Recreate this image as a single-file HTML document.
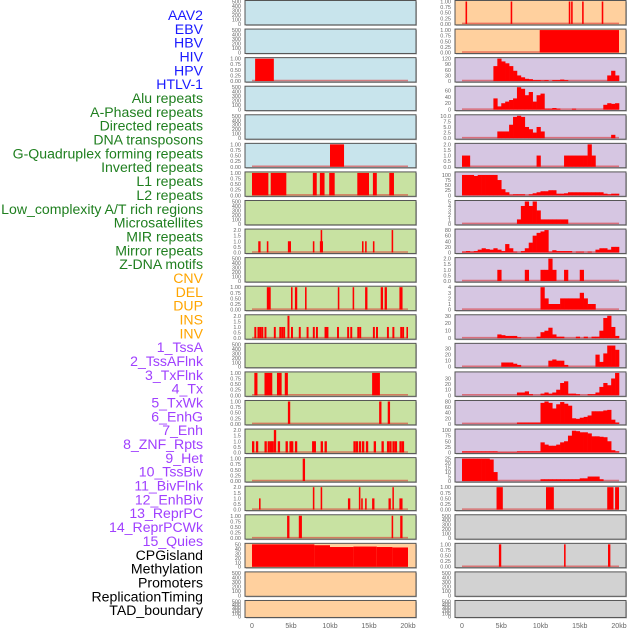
<!DOCTYPE html>
<html><head><meta charset="utf-8"><style>
html,body{margin:0;padding:0;background:#fff;}
svg{display:block;font-family:"Liberation Sans",sans-serif;}
</style></head><body>
<svg id="chart" width="630" height="630" viewBox="0 0 630 630" xmlns="http://www.w3.org/2000/svg"></svg>
<script>
const labels = ["AAV2","EBV","HBV","HIV","HPV","HTLV-1","Alu repeats","A-Phased repeats","Directed repeats","DNA transposons","G-Quadruplex forming repeats","Inverted repeats","L1 repeats","L2 repeats","Low_complexity A/T rich regions","Microsatellites","MIR repeats","Mirror repeats","Z-DNA motifs","CNV","DEL","DUP","INS","INV","1_TssA","2_TssAFlnk","3_TxFlnk","4_Tx","5_TxWk","6_EnhG","7_Enh","8_ZNF_Rpts","9_Het","10_TssBiv","11_BivFlnk","12_EnhBiv","13_ReprPC","14_ReprPCWk","15_Quies","CPGisland","Methylation","Promoters","ReplicationTiming","TAD_boundary"];
const labelColors = ["#1a1aff","#1a1aff","#1a1aff","#1a1aff","#1a1aff","#1a1aff","#1f7f1f","#1f7f1f","#1f7f1f","#1f7f1f","#1f7f1f","#1f7f1f","#1f7f1f","#1f7f1f","#1f7f1f","#1f7f1f","#1f7f1f","#1f7f1f","#1f7f1f","#ffa500","#ffa500","#ffa500","#ffa500","#ffa500","#a040ff","#a040ff","#a040ff","#a040ff","#a040ff","#a040ff","#a040ff","#a040ff","#a040ff","#a040ff","#a040ff","#a040ff","#a040ff","#a040ff","#a040ff","#000","#000","#000","#000","#000"];
const xTicks = [0,5,10,15,20];
const xTickLabels = ["0","5kb","10kb","15kb","20kb"];
const L2 = [[0.4,2.8,1]];
const L5 = [[10,11.8,1]];
const L6 = [[0,2.1,1],[2.4,4.4,1],[7.8,8.3,1],[8.7,9.3,1],[9.9,10.6,1],[13.5,15,1],[15.5,16,1],[17.6,18.2,1]];
const L8 = [[0.8,1.1,1],[1.9,2.1,1],[4.6,5,1],[7.8,8,1],[8.7,9.1,1],[8.8,9,2],[14.1,14.3,1],[14.5,14.7,1],[15.5,15.7,1],[17.9,18.1,2]];
const L10 = [[1.9,2.4,1],[5,5.2,1],[5.5,5.8,1],[6.8,7,1],[11,11.2,1],[12.9,13.1,1],[14.5,14.8,1],[16.5,16.8,1],[17,17.3,1],[18.9,19.3,1]];
const L11 = [[0.3,0.55,1],[0.7,0.95,1],[0.95,1.2,1],[1.2,1.45,1],[1.6,1.85,1],[2.8,3.05,1],[3.5,3.75,1],[3.75,4,1],[4,4.25,1],[4.55,4.8,2],[5,5.25,1],[6,6.25,1],[7,7.25,1],[7.8,8.05,1],[8.2,8.45,1],[9.3,9.55,1],[9.55,9.8,1],[10.9,11.15,1],[12.2,12.45,1],[12.6,12.85,1],[13.5,13.75,1],[13.75,14,1],[15.5,15.75,1],[15.9,16.15,1],[17.3,17.55,1],[18,18.25,1],[19,19.25,1],[19.25,19.5,1],[19.8,20,1]];
const L13 = [[0.3,0.7,1],[1.6,2.6,1],[3.2,3.8,1],[4.2,4.6,1],[15.4,16.4,1]];
const L14 = [[4.6,4.9,1],[16.3,16.6,1],[17.4,17.7,1]];
const L15 = [[0,0.3,1],[0.5,0.8,1],[1.6,1.9,1],[2,2.3,1],[2.3,2.6,1],[2.5,2.8,1],[2.8,3.1,2],[3.3,3.6,1],[4.3,4.6,1],[4.8,5.1,1],[5,5.3,1],[5.5,5.8,1],[7.7,8,1],[7.9,8.2,1],[8.8,9.1,1],[9.3,9.6,1],[13,13.3,1],[13.3,13.6,1],[13.7,14,1],[14.1,14.4,1],[14.6,14.9,1],[15.6,15.9,1],[16.6,16.9,1],[17.3,17.6,1],[17.6,17.9,1],[18,18.3,1],[18.3,18.6,1],[18.9,19.2,1],[19.2,19.5,1]];
const L16 = [[6.5,6.8,1]];
const L17 = [[0.9,1.1,1],[7.8,8,2],[8.8,9,2],[12.3,12.6,1],[13.7,13.9,2],[14,14.2,1],[14.5,14.7,1],[15.4,15.7,1],[17.5,17.8,1],[18,18.1,2],[18.9,19.3,1]];
const L18 = [[4.5,4.8,1],[6,6.4,1],[17.9,18.1,1],[19,19.3,1]];
const L19 = [[0,8,50],[8,10,48],[10,13,44],[13,16,45],[16,18,44],[18,20,43]];
const R0 = [[0.45,0.65,1],[6.2,6.4,1],[13.6,13.8,1],[13.9,14.1,1],[15.3,15.5,1],[17.8,18,1]];
const R1 = [[9.9,20,1]];
const R17 = [[4.4,5.2,1],[10.7,11.7,1],[18.5,19.3,1],[19.5,20,1]];
const R19 = [[4.7,5,1],[13,13.2,1],[18.6,18.9,1]];
const B2 = [0,0,0,0,0,0,0,0,80,120,105,95,80,55,30,20,12,10,5,5,3,5,0,5,5,8,5,0,0,0,0,0,0,0,0,0,0,30,55,30];
const B3 = [0,0,0,0,0,0,0,0,35,10,20,25,30,35,70,65,45,55,25,45,50,3,3,5,3,0,0,0,3,0,0,0,0,0,0,0,15,20,18,20];
const B4 = [0,0,0,0,0,0,0,0,0,3,3,3,6,9.5,10,9.5,5,4,2.5,5,3,0,0,0,0,0,0,0,0,0,0,0,0,0,0,0,0,0,1.5,0];
const B5 = [1,1,0,0,0,0,0,0,0,0,0,0,0,0,0,0,0,0,0,1,0,0,0,0,0,0,1,1,1,1,1,1,2,1,0,0,0,0,0,0];
const B6 = [100,100,100,95,100,100,100,100,100,75,30,15,3,5,5,5,0,5,10,15,20,20,25,25,8,8,10,15,15,15,15,15,15,15,15,15,8,5,8,8];
const B7 = [0,0,0,0,0,0,0,0,0,0,0,0,0,0,1,4,5,4,5,3,1,1,1,1,1,1,1,0,0,0,0,0,0,0,0,0,0,0,0,0];
const B8 = [3,5,3,5,10,15,12,10,15,10,5,30,15,3,0,5,15,35,60,70,75,80,3,8,5,5,5,5,0,3,3,0,3,0,10,15,15,10,20,20];
const B9 = [0,0,0,0,0,0,0,0,0,1,0,0,0,0,0,0,1,0,0,0,1,1,2,1,0,0,1,0,0,0,1,0,0,0,0,0,0,0,0,0];
const B10 = [0,0,0,0,0,0,0,0,0,0,0,0,0,0,0,0,0,0,0,0,4,2,1,1,1,2,2,2,2,2,3,2,1,1,0,0,0,0,0,0];
const B11 = [0,0,0,0,0,0,0,0,0,5,4,3,3,3,1,0,0,0,0,2,8,10,14,5,2,2,0,0,0,2,0,2,0,2,2,10,27,30,15,3];
const B12 = [0,0,0,0,0,0,0,0,0,0,7,7,7,5,3,0,0,0,0,0,0,0,10,12,10,10,3,0,0,0,0,0,0,0,20,8,22,35,35,28];
const B13 = [0,0,0,0,0,0,0,0,0,0,0,0,0,0,5,5,7,2,0,0,3,5,3,5,10,22,25,3,3,2,0,0,2,2,5,15,22,18,30,40];
const B14 = [0,0,0,0,0,0,0,0,0,0,0,0,0,0,5,5,5,5,5,5,75,80,75,55,70,78,72,65,20,18,22,25,30,45,45,45,48,50,15,5];
const B15 = [5,5,5,5,5,5,5,5,5,2,2,2,2,2,5,5,5,5,5,5,45,35,30,30,35,45,50,75,97,95,90,90,85,72,72,70,68,50,10,5];
const B16 = [25,25,25,25,25,25,25,24,10,0,0,0,0,0,0,0,0,0,0,0,2,2,2,2,2,2,2,2,2,2,3,3,5,5,5,2,0,0,0,0];
const ticksEmpty = ["0","100","200","300","400","500"];
const ticks1 = ["0.00","0.25","0.50","0.75","1.00"];
const ticks2 = ["0.0","0.5","1.0","1.5","2.0"];
const ticks120 = ["0","30","60","90","120"];
const ticks60 = ["0","20","40","60"];
const ticks10 = ["0.0","2.5","5.0","7.5","10.0"];
const ticks100 = ["0","25","50","75","100"];
const ticks5 = ["0","1","2","3","4","5"];
const ticks80 = ["0","20","40","60","80"];
const ticks4 = ["0","1","2","3","4"];
const ticks30 = ["0","10","20","30"];
const ticks25 = ["0","5","10","15","20","25"];
const ticks50 = ["0","10","20","30","40","50"];

const BLUE="#c8e4ec", GREEN="#c8e2a2", ORANGE="#ffd09e", PURPLE="#d6c6e2", GREY="#d2d2d2";
const leftPanels = [
 [null,500,ticksEmpty,BLUE],[null,500,ticksEmpty,BLUE],[L2,1,ticks1,BLUE],[null,500,ticksEmpty,BLUE],[null,500,ticksEmpty,BLUE],[L5,1,ticks1,BLUE],
 [L6,1,ticks1,GREEN],[null,500,ticksEmpty,GREEN],[L8,2,ticks2,GREEN],[null,500,ticksEmpty,GREEN],[L10,1,ticks1,GREEN],[L11,2,ticks2,GREEN],
 [null,500,ticksEmpty,GREEN],[L13,1,ticks1,GREEN],[L14,1,ticks1,GREEN],[L15,2,ticks2,GREEN],[L16,1,ticks1,GREEN],[L17,2,ticks2,GREEN],[L18,1,ticks1,GREEN],
 [L19,50,ticks50,ORANGE],[null,500,ticksEmpty,ORANGE],[null,500,ticksEmpty,ORANGE]];
const rightPanels = [
 [R0,1,ticks1,ORANGE,"seg"],[R1,1,ticks1,ORANGE,"seg"],[B2,120,ticks120,PURPLE,"bin"],[B3,70,ticks60,PURPLE,"bin"],[B4,10,ticks10,PURPLE,"bin"],
 [B5,2,ticks2,PURPLE,"bin"],[B6,110,ticks100,PURPLE,"bin"],[B7,5,ticks5,PURPLE,"bin"],[B8,80,ticks80,PURPLE,"bin"],[B9,2,ticks2,PURPLE,"bin"],
 [B10,4,ticks4,PURPLE,"bin"],[B11,30,ticks30,PURPLE,"bin"],[B12,37,ticks30,PURPLE,"bin"],[B13,40,ticks30,PURPLE,"bin"],[B14,80,ticks80,PURPLE,"bin"],
 [B15,100,ticks100,PURPLE,"bin"],[B16,25,ticks25,PURPLE,"bin"],[R17,1,ticks1,GREY,"seg"],[null,500,ticksEmpty,GREY,"seg"],[R19,1,ticks1,GREY,"seg"],
 [null,500,ticksEmpty,GREY,"seg"],[null,500,ticksEmpty,GREY,"seg"]];

const NS="http://www.w3.org/2000/svg";
const svg=document.getElementById('chart');
function mk(tag,attrs,parent){const e=document.createElementNS(NS,tag);for(const k in attrs)e.setAttribute(k,attrs[k]);(parent||svg).appendChild(e);return e;}

labels.forEach((t,i)=>{
  const e=mk('text',{x:203,y:15+i*13.84+5,'text-anchor':'end','font-size':'14.1',fill:labelColors[i]});
  
  
  e.textContent=t;
});

function rowTop(i){return 0.5+i*28.57;}
function rowH(i){return i===21?17:24.4;}

function drawColumn(panels,col){
  const px0 = col===0?245:455, px1 = col===0?416:626;
  const kb0 = col===0?252:462, kbScale = col===0?7.8:7.85;
  const xs = kb=>kb0+kb*kbScale;
  panels.forEach((p,i)=>{
    const [data,ymax,ticks,bg,kind]=p;
    const top=rowTop(i), h=rowH(i), bot=top+h;
    const ys = v=>bot-1-(v/ymax)*(h-2);
    const g=mk('g',{});
    
    
    const sh=mk('rect',{x:px0+1,y:top+1,width:px1-px0,height:h,fill:'#bbb'},g);
    
    
    const r=mk('rect',{x:px0,y:top,width:px1-px0,height:h,fill:bg,stroke:'#555','stroke-width':1},g);
    
    
    ticks.forEach(t=>{
      const v=parseFloat(t);
      const ty = ymax===500 ? bot-1-(v/500)*(h-2) : ys(v);
      const te=mk('text',{x:px0-4,y:ty+2,'text-anchor':'end','font-size':'5.5',fill:'#666'},g);
      
      
      te.textContent=t;
    });
    if(!data) return;
    const bl=mk('line',{x1:xs(0),x2:xs(20),y1:bot-1.5,y2:bot-1.5,stroke:'rgba(220,40,40,0.55)','stroke-width':1.5},g);
    
    
    if(kind==='bin'){
      data.forEach((v,k)=>{
        if(v<=0) return;
        const b=mk('rect',{x:xs(k*0.5),y:ys(v),width:xs(k*0.5+0.5)-xs(k*0.5)+0.3,height:bot-1-ys(v),fill:'#ff0000'},g);
        
        
      });
    } else {
      data.forEach(s=>{
        const b=mk('rect',{x:xs(s[0]),y:ys(s[2]),width:Math.max(1.5,xs(s[1])-xs(s[0])),height:bot-1-ys(s[2]),fill:'#ff0000'},g);
        
        
      });
    }
  });
  xTicks.forEach((k,j)=>{
    const t=mk('text',{x:xs(k),y:628,'text-anchor':'middle','font-size':'7',fill:'#666'});
    
    
    t.textContent=xTickLabels[j];
  });
}
drawColumn(leftPanels,0);
drawColumn(rightPanels,1);
</script>
</body></html>
